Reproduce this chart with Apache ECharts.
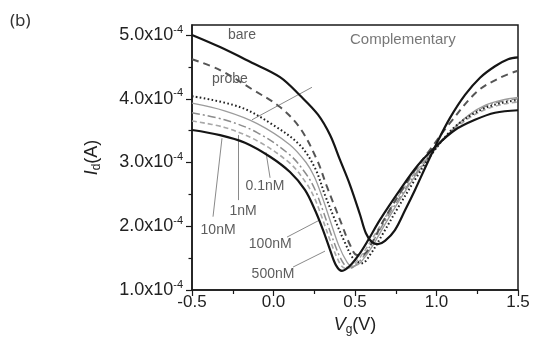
<!DOCTYPE html>
<html>
<head>
<meta charset="utf-8">
<script src="https://cdn.jsdelivr.net/npm/echarts@6/dist/echarts.min.js"></script>
<style>
  html, body { margin: 0; padding: 0; background: #fff; }
  #chart { width: 535px; height: 352px; }
</style>
</head>
<body>
<div id="chart"></div>
<script>
// Id in units of 1e-4 A, Vg in V  -> [Vg, Id]
var bare = [[-0.5,5.00],[-0.328,4.81],[-0.144,4.58],[0.04,4.34],[0.163,4.05],[0.273,3.75],[0.347,3.43],[0.408,3.04],[0.469,2.65],[0.531,2.18],[0.567,1.89],[0.604,1.75],[0.641,1.72],[0.684,1.77],[0.745,1.94],[0.807,2.25],[0.868,2.57],[0.929,2.91],[1.003,3.31],[1.083,3.70],[1.175,4.06],[1.267,4.33],[1.359,4.51],[1.439,4.62],[1.5,4.65]];
var probe = [[-0.5,4.62],[-0.328,4.45],[-0.126,4.14],[0.04,3.87],[0.163,3.54],[0.267,3.04],[0.328,2.62],[0.377,2.30],[0.42,2.02],[0.469,1.71],[0.512,1.55],[0.555,1.56],[0.604,1.74],[0.684,2.13],[0.776,2.52],[0.868,2.88],[0.96,3.20],[1.083,3.62],[1.248,4.11],[1.39,4.33],[1.5,4.44]];
var nM01 = [[-0.5,4.04],[-0.206,3.87],[-0.003,3.59],[0.163,3.27],[0.255,2.91],[0.316,2.49],[0.377,2.10],[0.439,1.74],[0.488,1.50],[0.543,1.42],[0.592,1.55],[0.666,1.86],[0.745,2.21],[0.868,2.73],[0.979,3.16],[1.113,3.56],[1.267,3.82],[1.39,3.93],[1.5,3.98]];
var nM1 = [[-0.5,3.93],[-0.3,3.81],[-0.1,3.61],[0.1,3.28],[0.2,3.00],[0.25,2.78],[0.3,2.45],[0.35,2.07],[0.4,1.70],[0.45,1.44],[0.48,1.37],[0.52,1.40],[0.55,1.48],[0.6,1.66],[0.7,2.10],[0.8,2.52],[0.9,2.90],[1.0,3.23],[1.1,3.52],[1.2,3.75],[1.3,3.90],[1.4,3.98],[1.5,4.02]];
var nM10 = [[-0.5,3.78],[-0.3,3.67],[-0.1,3.47],[0.1,3.12],[0.2,2.82],[0.25,2.60],[0.3,2.27],[0.35,1.90],[0.4,1.56],[0.44,1.38],[0.47,1.34],[0.5,1.38],[0.55,1.52],[0.6,1.72],[0.7,2.15],[0.8,2.55],[0.9,2.92],[1.0,3.24],[1.1,3.52],[1.2,3.74],[1.3,3.88],[1.4,3.96],[1.5,4.00]];
var nM100 = [[-0.5,3.65],[-0.3,3.55],[-0.1,3.34],[0.1,2.99],[0.2,2.68],[0.25,2.45],[0.3,2.12],[0.35,1.76],[0.4,1.45],[0.43,1.35],[0.46,1.34],[0.5,1.42],[0.55,1.58],[0.6,1.78],[0.7,2.20],[0.8,2.60],[0.9,2.95],[1.0,3.25],[1.1,3.50],[1.2,3.70],[1.3,3.83],[1.4,3.91],[1.5,3.95]];
var nM500 = [[-0.5,3.51],[-0.328,3.43],[-0.175,3.31],[-0.021,3.09],[0.101,2.85],[0.193,2.57],[0.255,2.25],[0.304,1.94],[0.347,1.63],[0.383,1.39],[0.42,1.30],[0.469,1.38],[0.531,1.58],[0.58,1.78],[0.653,2.10],[0.776,2.57],[0.887,2.96],[1.003,3.27],[1.113,3.51],[1.236,3.67],[1.359,3.78],[1.5,3.82]];

// annotation texts and where they sit [Vg, Id, text]
var notes = [
  [-0.193, 5.00, 'bare'],
  [-0.267, 4.31, 'probe'],
  [-0.052, 2.63, '0.1nM'],
  [-0.187, 2.24, '1nM'],
  [-0.34, 1.94, '10nM'],
  [-0.02, 1.72, '100nM'],
  [-0.003, 1.25, '500nM']
];
var titleNote = [0.794, 4.92, 'Complementary'];
// leader lines [[V1, I1], [V2, I2]]
var leaders = [
  [[-0.132, 3.67], [0.236, 4.18]],
  [[-0.021, 2.76], [-0.046, 3.16]],
  [[-0.218, 2.41], [-0.218, 3.43]],
  [[-0.371, 2.15], [-0.316, 3.38]],
  [[0.083, 1.83], [0.285, 2.10]],
  [[0.12, 1.36], [0.316, 1.61]]
];
var yTicks = [1, 2, 3, 4, 5];
var yMinor = [1.5, 2.5, 3.5, 4.5];

var chart = echarts.init(document.getElementById('chart'));
var font = 'Liberation Sans, Arial, sans-serif';

function curve(name, data, color, width, type) {
  return {
    name: name, type: 'line', data: data, showSymbol: false, smooth: 0.35,
    lineStyle: { color: color, width: width, type: type, cap: 'butt' },
    silent: true
  };
}

var option = {
  animation: false,
  backgroundColor: '#fff',
  graphic: [{
    type: 'text', left: 10, top: 13,
    style: { text: '(b)', fontSize: 17, fontFamily: 'Noto Sans', fill: '#333' }
  }],
  grid: { left: 192, right: 17, top: 25, bottom: 62, show: true, borderColor: '#1a1a1a', borderWidth: 1.5 },
  xAxis: {
    type: 'value', min: -0.5, max: 1.5, interval: 0.5,
    axisLine: { onZero: false, lineStyle: { color: '#1a1a1a', width: 1.5 } },
    axisTick: { length: 6, lineStyle: { color: '#1a1a1a', width: 1.2 } },
    minorTick: { show: true, splitNumber: 2, length: 4, lineStyle: { color: '#1a1a1a', width: 1.2 } },
    splitLine: { show: false },
    axisLabel: { fontSize: 17, fontFamily: font, color: '#222', margin: 4, formatter: function (v) { return v.toFixed(1); } },
    name: '{i|V}{sub|g}{n|(V)}', nameLocation: 'middle', nameGap: 19,
    nameTextStyle: {
      rich: {
        i: { fontSize: 18, fontStyle: 'italic', fontFamily: font, color: '#222', lineHeight: 22 },
        sub: { fontSize: 12, fontFamily: font, color: '#222', lineHeight: 14, verticalAlign: 'bottom' },
        n: { fontSize: 18, fontFamily: font, color: '#222', lineHeight: 22 }
      }
    }
  },
  yAxis: [{
    type: 'value', min: 1, max: 5.157, interval: 1,
    axisLine: { show: true, onZero: false, lineStyle: { color: '#1a1a1a', width: 1.5 } },
    axisTick: { show: true, length: 6, customValues: yTicks, lineStyle: { color: '#1a1a1a', width: 1.2 } },
    splitLine: { show: false },
    axisLabel: {
      customValues: yTicks, margin: 9,
      formatter: function (v) { return '{b|' + v.toFixed(1) + 'x10}{s|-4}'; },
      rich: {
        b: { fontSize: 18, fontFamily: font, color: '#222', lineHeight: 22 },
        s: { fontSize: 11, fontFamily: font, color: '#222', lineHeight: 16, verticalAlign: 'top' }
      }
    },
    name: '{i|I}{sub|d}{n|(A)}', nameLocation: 'middle', nameGap: 89, nameRotate: 90,
    nameTextStyle: {
      rich: {
        i: { fontSize: 18, fontStyle: 'italic', fontFamily: font, color: '#222', lineHeight: 22 },
        sub: { fontSize: 12, fontFamily: font, color: '#222', lineHeight: 14, verticalAlign: 'bottom' },
        n: { fontSize: 18, fontFamily: font, color: '#222', lineHeight: 22 }
      }
    }
  }, {
    type: 'value', min: 1, max: 5.157, interval: 1, position: 'left', offset: 0,
    axisLine: { show: false, onZero: false },
    axisTick: { show: true, length: 3.5, customValues: yMinor, lineStyle: { color: '#1a1a1a', width: 1.2 } },
    axisLabel: { show: false },
    splitLine: { show: false }
  }],
  series: [
    {
      type: 'lines', coordinateSystem: 'cartesian2d', silent: true,
      lineStyle: { color: '#8a8a8a', width: 1, opacity: 1, curveness: 0 },
      data: leaders.map(function (l) { return { coords: l }; })
    },
    curve('100nM', nM100, '#a8a8a8', 1.6, [5, 3]),
    curve('10nM', nM10, '#8c8c8c', 1.5, [8, 3, 2, 3]),
    curve('1nM', nM1, '#9c9c9c', 1.3, 'solid'),
    curve('0.1nM', nM01, '#222', 2, [1.6, 2.4]),
    curve('probe', probe, '#555', 2, [7, 5]),
    curve('500nM', nM500, '#151515', 2.2, 'solid'),
    curve('bare', bare, '#151515', 2.2, 'solid'),
    {
      type: 'scatter', symbolSize: 1, silent: true,
      itemStyle: { color: 'transparent' },
      label: {
        show: true, position: 'inside', fontSize: 14, fontFamily: font, color: '#333',
        formatter: function (p) { return p.value[2]; }
      },
      data: notes
    },
    {
      type: 'scatter', symbolSize: 1, silent: true,
      itemStyle: { color: 'transparent' },
      label: {
        show: true, position: 'inside', fontSize: 15, fontFamily: font, color: '#555',
        formatter: function (p) { return p.value[2]; }
      },
      data: [titleNote]
    }
  ]
};
chart.setOption(option);
</script>
</body>
</html>
